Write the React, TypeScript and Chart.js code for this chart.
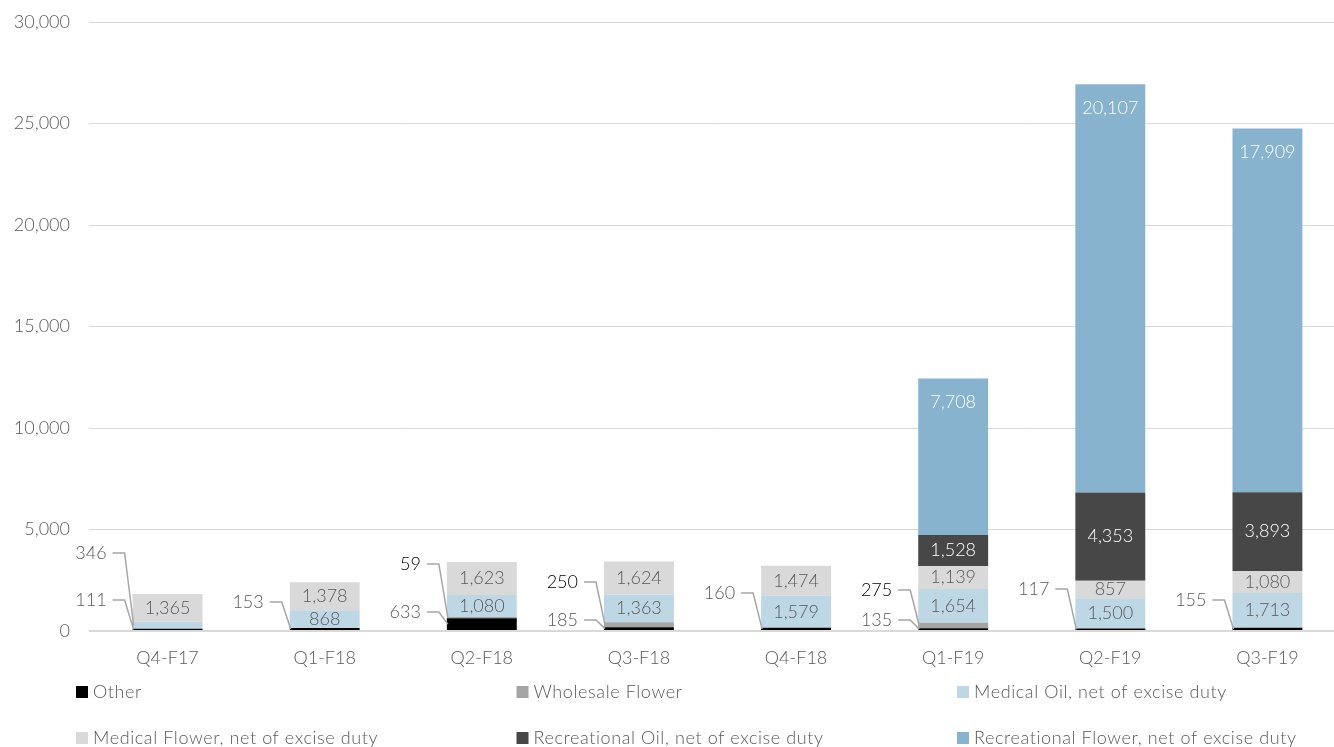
import React, { useEffect, useRef } from "react";
import { Chart, registerables } from "chart.js";

Chart.register(...registerables);

// Quarterly revenue by product line (thousands)
const CATEGORIES = ["Q4-F17", "Q1-F18", "Q2-F18", "Q3-F18", "Q4-F18", "Q1-F19", "Q2-F19", "Q3-F19"];
const OTHER = [111, 153, 633, 185, 160, 135, 117, 155];
const WHOLESALE_FLOWER = [null, null, 59, 250, null, 275, null, null];
const MEDICAL_OIL = [346, 868, 1080, 1363, 1579, 1654, 1500, 1713];
const MEDICAL_FLOWER = [1365, 1378, 1623, 1624, 1474, 1139, 857, 1080];
const RECREATIONAL_OIL = [null, null, null, null, null, 1528, 4353, 3893];
const RECREATIONAL_FLOWER = [null, null, null, null, null, 7708, 20107, 17909];
const Y_TICKS = [0, 5000, 10000, 15000, 20000, 25000, 30000];

const SERIES_NAMES = [
  "Other",
  "Wholesale Flower",
  "Medical Oil, net of excise duty",
  "Medical Flower, net of excise duty",
  "Recreational Oil, net of excise duty",
  "Recreational Flower, net of excise duty",
];

const FONT = "Lato, 'Open Sans', sans-serif";
const WEIGHT = 300;
const SIZE = 18;
const TEXT = "#595959";

// Small segments are labelled outside the bar with a leader line.
// [series index, category index, label lift above the baseline in px, text colour]
const CALLOUTS: [number, number, number, string][] = [
  [2, 0, 78, TEXT],
  [0, 0, 31, TEXT],
  [0, 1, 29, TEXT],
  [1, 2, 67, "#000000"],
  [0, 2, 19, TEXT],
  [1, 3, 49, "#000000"],
  [0, 3, 11, TEXT],
  [0, 4, 38, TEXT],
  [1, 5, 41, "#000000"],
  [0, 5, 11, TEXT],
  [0, 6, 42, TEXT],
  [0, 7, 31, TEXT],
];

const fmt = (v: number) => v.toLocaleString("en-US");
const font = `${WEIGHT} ${SIZE}px ${FONT}`;

const valueLabels = {
  id: "valueLabels",
  afterDatasetsDraw(chart: any) {
    const ctx = chart.ctx;
    const called = new Set(CALLOUTS.map((c) => `${c[0]}-${c[1]}`));
    ctx.save();
    ctx.font = font;
    ctx.textAlign = "center";
    ctx.textBaseline = "middle";
    chart.data.datasets.forEach((ds: any, di: number) => {
      if (!ds.labelMode) return;
      const meta = chart.getDatasetMeta(di);
      meta.data.forEach((el: any, i: number) => {
        const v = ds.data[i];
        if (v == null || called.has(`${di}-${i}`)) return;
        const y = ds.labelMode === "end" ? el.y + 24 : (el.y + el.base) / 2;
        ctx.fillStyle = ds.labelColor;
        ctx.fillText(fmt(v), el.x, y);
      });
    });

    const base = chart.scales.y.getPixelForValue(0);
    CALLOUTS.forEach(([di, ci, lift, color]) => {
      const ds = chart.data.datasets[di];
      const el = chart.getDatasetMeta(di).data[ci];
      const v = ds.data[ci];
      if (!el || v == null) return;
      const left = el.x - el.width / 2;
      const segY = (el.y + el.base) / 2;
      const ly = base - lift;
      ctx.strokeStyle = "#a6a6a6";
      ctx.lineWidth = 1.5;
      ctx.beginPath();
      ctx.moveTo(left - 20, ly);
      ctx.lineTo(left - 8, ly);
      ctx.lineTo(left + 1, segY);
      ctx.stroke();
      ctx.fillStyle = color;
      ctx.textAlign = "right";
      ctx.fillText(fmt(v), left - 26, ly);
    });
    ctx.restore();
  },
};

const gridLegend = {
  id: "gridLegend",
  afterDraw(chart: any) {
    const ctx = chart.ctx;
    ctx.save();
    ctx.font = font;
    ctx.letterSpacing = "0.6px";
    ctx.textBaseline = "middle";
    ctx.textAlign = "left";
    chart.data.datasets.forEach((ds: any, i: number) => {
      const col = i % 3;
      const row = Math.floor(i / 3);
      const x = 76 + col * 440.5;
      const y = 692 + row * 46;
      ctx.fillStyle = ds.backgroundColor;
      ctx.fillRect(x, y - 6, 12, 12);
      ctx.fillStyle = TEXT;
      ctx.fillText(ds.label, x + 17, y);
    });
    ctx.restore();
  },
};

export default function App() {
  const canvasRef = useRef<HTMLCanvasElement | null>(null);

  useEffect(() => {
    document.body.style.margin = "0";
    const canvas = canvasRef.current;
    if (!canvas) return;
    const series = [OTHER, WHOLESALE_FLOWER, MEDICAL_OIL, MEDICAL_FLOWER, RECREATIONAL_OIL, RECREATIONAL_FLOWER];
    const colors = ["#000000", "#a5a5a5", "#bdd7e4", "#d9d9d9", "#474747", "#87b3cf"];
    const modes = [null, null, "center", "center", "center", "end"];
    const labelColors = [TEXT, "#000000", TEXT, TEXT, "#ffffff", "#ffffff"];
    const tickFont = { family: FONT, size: SIZE, weight: WEIGHT };

    const chart = new Chart(canvas, {
      type: "bar",
      data: {
        labels: CATEGORIES,
        datasets: series.map((data, i) => ({
          label: SERIES_NAMES[i],
          data,
          backgroundColor: colors[i],
          borderWidth: 0,
          barPercentage: 1,
          categoryPercentage: 0.445,
          labelMode: modes[i],
          labelColor: labelColors[i],
        })) as any,
      },
      options: {
        animation: false,
        responsive: false,
        devicePixelRatio: 1,
        layout: { padding: { top: 22, left: 0, right: 0, bottom: 66 } },
        plugins: {
          legend: { display: false },
          tooltip: { enabled: false },
        },
        scales: {
          x: {
            stacked: true,
            grid: { display: false, drawTicks: false },
            border: { display: false },
            ticks: { color: TEXT, font: tickFont as any, padding: 16, maxRotation: 0 },
            afterFit: (s: any) => {
              s.height = 50;
              s.paddingLeft = 0;
              s.paddingRight = 0;
            },
          },
          y: {
            stacked: true,
            min: 0,
            max: 30000,
            afterBuildTicks: (s: any) => {
              s.ticks = Y_TICKS.map((value) => ({ value }));
            },
            grid: {
              color: "#d9d9d9",
              lineWidth: (c: any) => (c.tick && c.tick.value === 0 ? 2 : 1),
              drawTicks: false,
            },
            border: { display: false },
            ticks: {
              color: TEXT,
              font: tickFont as any,
              padding: 19,
              callback: (v: any) => fmt(Number(v)),
            },
            afterFit: (s: any) => {
              s.width = 89;
              s.paddingTop = 0;
              s.paddingBottom = 0;
            },
          },
        },
      },
      plugins: [valueLabels, gridLegend],
    });
    return () => chart.destroy();
  }, []);

  // The plot runs slightly past the right edge, so the frame clips it.
  return (
    <div style={{ position: "absolute", left: 0, top: 0, width: 1334, height: 747, background: "#ffffff", overflow: "hidden" }}>
      <canvas ref={canvasRef} width={1346} height={747} style={{ display: "block" }} />
    </div>
  );
}
